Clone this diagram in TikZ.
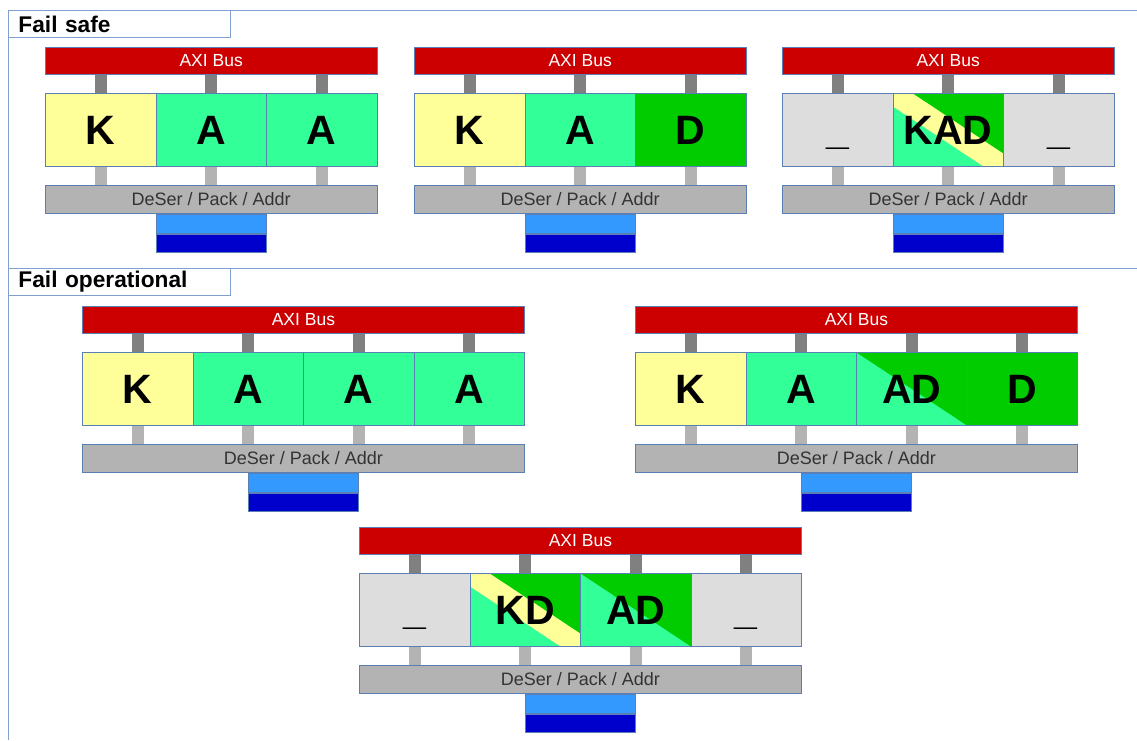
\documentclass[tikz,border=0pt]{standalone}
\usepackage{fontspec}
\setmainfont{Liberation Sans}
\usetikzlibrary{calc,backgrounds}
\definecolor{fillK}{HTML}{FFFF99}
\definecolor{fillA}{HTML}{33FF99}
\definecolor{fillD}{HTML}{00CC00}
\definecolor{fillX}{HTML}{DDDDDD}
\definecolor{axired}{HTML}{CC0000}
\definecolor{deserg}{HTML}{B3B3B3}
\definecolor{connd}{HTML}{808080}
\definecolor{connl}{HTML}{B3B3B3}
\definecolor{lblue}{HTML}{3399FF}
\definecolor{dblue}{HTML}{0000CC}
\definecolor{edge}{HTML}{5A7FB5}
\definecolor{frame}{HTML}{7F9FCF}
\definecolor{txtgray}{HTML}{333333}
\newcommand{\usc}{{\fontsize{41}{41}\selectfont\char"5F}}
\tikzset{
  bx/.style={draw=edge, line width=0.8pt, inner sep=0pt, rectangle},
  axibar/.style={bx, fill=axired, minimum height=27pt, text=white, font=\fontsize{17.5}{17.5}\selectfont},
  deser/.style={bx, fill=deserg, minimum height=28pt, text=txtgray, font=\fontsize{18}{18}\selectfont},
  cell/.style={bx, minimum width=110.5pt, minimum height=73pt, text height=29.5pt, text depth=0pt, font=\fontsize{41}{41}\selectfont\bfseries},
  cK/.style={fill=fillK}, cA/.style={fill=fillA}, cD/.style={fill=fillD}, cX/.style={fill=fillX},
  cAD/.style={path picture={
    \fill[fillA] (path picture bounding box.north west) rectangle (path picture bounding box.south east);
    \fill[fillD] (path picture bounding box.north west) -- (path picture bounding box.north east) -- (path picture bounding box.south east) -- cycle;}},
  cBand/.style={path picture={
    \fill[fillA] (path picture bounding box.north west) rectangle (path picture bounding box.south east);
    \fill[fillK] (path picture bounding box.north west) -- ([xshift=20pt]path picture bounding box.north west) -- ([yshift=13pt]path picture bounding box.south east) -- (path picture bounding box.south east) -- ([xshift=-20pt]path picture bounding box.south east) -- ([yshift=-13pt]path picture bounding box.north west) -- cycle;
    \fill[fillD] ([xshift=20pt]path picture bounding box.north west) -- (path picture bounding box.north east) -- ([yshift=13pt]path picture bounding box.south east) -- cycle;}},
  connD/.style={draw=connd, line width=12pt},
  connL/.style={draw=connl, line width=12pt},
  lbluebox/.style={bx, fill=lblue, minimum width=110.5pt, minimum height=19pt},
  dbluebox/.style={bx, fill=dblue, minimum width=110.5pt, minimum height=18pt},
  hdr/.style={draw=frame, line width=0.9pt, fill=white, inner xsep=10pt, inner ysep=0pt, text width=202pt, align=left, minimum height=27pt, font=\fontsize{22.7}{22.7}\selectfont\bfseries},
  frameline/.style={draw=frame, line width=1pt},
}
\newcommand{\busgroup}[5]{%
  \pgfmathsetmacro{\gw}{#4*110.5}%
  \node[axibar, minimum width=\gw pt, anchor=north west] (#1axi) at (#2,#3) {AXI Bus};
  \foreach \st/\lab [count=\i] in {#5} {
    \node[cell, \st, anchor=north west] (#1c\i) at ({#2+(\i-1)*110.5},{#3+46}) {\lab};
  }
  \node[deser, minimum width=\gw pt, anchor=north west] (#1ds) at (#2,{#3+138}) {DeSer / Pack / Addr};
  \node[lbluebox, anchor=north] (#1lb) at (#1ds.south) {};
  \node[dbluebox, anchor=north] (#1db) at (#1lb.south) {};
  \begin{scope}[on background layer]
    \foreach \i in {1,...,#4} {
      \draw[connD] (#1axi.south -| #1c\i.north) -- (#1c\i.north);
      \draw[connL] (#1c\i.south) -- (#1c\i.south |- #1ds.north);
    }
  \end{scope}
}
\begin{document}
\begin{tikzpicture}[x=1pt, y=-1pt]
\useasboundingbox (0,0) rectangle (1137,740);
\begin{scope}[on background layer]
  \fill[white] (0,0) rectangle (1137,740);
\end{scope}
% frame
\coordinate (tr1) at (1137,10);
\coordinate (tr2) at (1137,268);
\coordinate (bl) at (8,740);
\coordinate (ml) at (8,268);
\draw[frameline] (bl) -- (8,10) -- (tr1);
\draw[frameline] (ml) -- (tr2);
\node[hdr, anchor=north west] (hdr1) at (8,10) {Fail safe};
\node[hdr, anchor=north west] (hdr2) at (8,268) {Fail operational};
% groups
\busgroup{ga}{45}{47}{3}{cK/K, cA/A, cA/A}
\busgroup{gb}{414}{47}{3}{cK/K, cA/A, cD/D}
\busgroup{gc}{782}{47}{3}{cX/\usc, cBand/KAD, cX/\usc}
\busgroup{gd}{82}{306}{4}{cK/K, cA/A, cA/A, cA/A}
\busgroup{ge}{635}{306}{4}{cK/K, cA/A, cAD/AD, cD/D}
\busgroup{gf}{359}{527}{4}{cX/\usc, cBand/KD, cAD/AD, cX/\usc}
\end{tikzpicture}
\end{document}
